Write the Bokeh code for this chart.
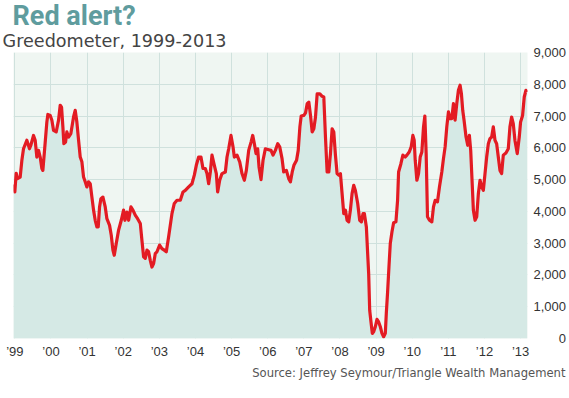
from bokeh.plotting import figure
from bokeh.models import Title, FixedTicker, Range1d
from bokeh.embed import file_html
from bokeh.resources import INLINE

# ---- data (decimal year, Greedometer value) ----
dates_a = [1998.963, 1999.000, 1999.037, 1999.074, 1999.148, 1999.194, 1999.240, 1999.332, 1999.406, 1999.443,
           1999.517, 1999.563, 1999.609, 1999.656, 1999.702, 1999.748, 1999.776, 1999.822, 1999.886, 1999.914,
           1999.979, 2000.025, 2000.071, 2000.145, 2000.210, 2000.256, 2000.293, 2000.330, 2000.357, 2000.404,
           2000.440, 2000.487, 2000.551, 2000.625, 2000.671, 2000.717, 2000.764, 2000.810, 2000.856, 2000.902,
           2000.948, 2000.994, 2001.041, 2001.087, 2001.133, 2001.179, 2001.225, 2001.271, 2001.308, 2001.345,
           2001.382, 2001.438, 2001.502, 2001.548, 2001.622, 2001.669, 2001.715, 2001.752, 2001.807, 2001.872,
           2001.946, 2002.010, 2002.047, 2002.102, 2002.149, 2002.213, 2002.269, 2002.333, 2002.398, 2002.472,
           2002.518, 2002.564, 2002.610, 2002.657, 2002.703, 2002.749, 2002.795, 2002.841, 2002.887, 2002.934,
           2003.007, 2003.072, 2003.137, 2003.192, 2003.257, 2003.349, 2003.414, 2003.488, 2003.580, 2003.654,
           2003.718, 2003.811, 2003.903, 2003.968, 2004.023, 2004.088, 2004.152, 2004.208, 2004.272, 2004.319,
           2004.365, 2004.411, 2004.457, 2004.522, 2004.577, 2004.614, 2004.670, 2004.734, 2004.827, 2004.873,
           2004.919, 2004.983, 2005.039, 2005.076, 2005.150, 2005.224, 2005.288, 2005.353, 2005.408, 2005.473,
           2005.538, 2005.584, 2005.630, 2005.676, 2005.722, 2005.759, 2005.814, 2005.870, 2005.934, 2006.027,
           2006.091, 2006.147, 2006.211, 2006.276, 2006.332, 2006.396, 2006.442, 2006.516, 2006.581, 2006.627]
greed_a = [4850, 4610, 5200, 5030, 5080, 5600, 5970, 6240, 5970, 6080,
           6390, 6240, 5710, 5920, 5710, 5350, 5290, 5920, 6810, 7050,
           7020, 6870, 6550, 6500, 6870, 7340, 7280, 6660, 6130, 6180,
           6500, 6340, 6450, 6970, 7180, 6810, 6240, 5710, 5560, 5080,
           4930, 4770, 4930, 4870, 4450, 4040, 3720, 3510, 3510, 4140,
           4400, 4450, 4140, 3770, 3560, 3250, 2780, 2620, 2990, 3410,
           3720, 4040, 3720, 3980, 3720, 4140, 4040, 3880, 3770, 3620,
           3090, 2570, 2520, 2780, 2730, 2460, 2250, 2360, 2670, 2730,
           2940, 2830, 2780, 2730, 3200, 3930, 4250, 4350, 4350, 4610,
           4660, 4770, 4870, 5140, 5450, 5710, 5710, 5350, 5350, 5190,
           4870, 5240, 5770, 5450, 5190, 4610, 4980, 5190, 5240, 5710,
           5970, 6390, 6030, 5710, 5770, 5560, 5190, 4980, 5290, 5920,
           6180, 6390, 6130, 5820, 5970, 5400, 5000, 5610, 5970, 5940,
           5920, 5770, 5920, 6130, 6030, 5660, 5240, 5290, 5030, 4930]

dates_b = [2006.678, 2006.724, 2006.798, 2006.844, 2006.890, 2006.926, 2007.000, 2007.046, 2007.092, 2007.138,
           2007.184, 2007.230, 2007.276, 2007.322, 2007.368, 2007.442, 2007.506, 2007.552, 2007.598, 2007.644,
           2007.690, 2007.736, 2007.782, 2007.828, 2007.874, 2007.920, 2007.966, 2008.012, 2008.058, 2008.104,
           2008.150, 2008.196, 2008.242, 2008.288, 2008.334, 2008.380, 2008.426, 2008.490, 2008.546, 2008.592,
           2008.638, 2008.674, 2008.730, 2008.766, 2008.794, 2008.822, 2008.858, 2008.895, 2008.932, 2008.978,
           2009.024, 2009.070, 2009.116, 2009.162, 2009.208, 2009.254, 2009.282, 2009.318, 2009.355, 2009.392,
           2009.438, 2009.484, 2009.548, 2009.594, 2009.622, 2009.686, 2009.741, 2009.806, 2009.852, 2009.916,
           2009.971, 2010.017, 2010.054, 2010.082, 2010.128, 2010.174, 2010.220, 2010.266, 2010.312, 2010.349,
           2010.385, 2010.422, 2010.477, 2010.542, 2010.588, 2010.634, 2010.698, 2010.753, 2010.818, 2010.864,
           2010.910, 2010.956, 2011.002, 2011.048, 2011.094, 2011.140, 2011.186, 2011.232, 2011.278, 2011.324,
           2011.361, 2011.397, 2011.434, 2011.489, 2011.535, 2011.581, 2011.618, 2011.655, 2011.692, 2011.738,
           2011.784, 2011.830, 2011.876, 2011.922, 2011.968, 2012.014, 2012.060, 2012.106, 2012.152, 2012.198,
           2012.244, 2012.290, 2012.336, 2012.382, 2012.428, 2012.474, 2012.520, 2012.593, 2012.658, 2012.704,
           2012.750, 2012.796, 2012.842, 2012.906, 2012.962, 2012.998, 2013.054, 2013.100, 2013.146, 2013.182]
greed_b = [5240, 5450, 5610, 5920, 6660, 7000, 7020, 7100, 7390, 7440,
           7020, 6500, 6600, 6970, 7700, 7700, 7620, 7600, 6340, 5240,
           5240, 5820, 6600, 6500, 5770, 5190, 5140, 5190, 4560, 3930,
           4040, 3720, 3670, 4040, 4560, 4820, 4660, 4250, 3720, 3670,
           3930, 3930, 3510, 2670, 2040, 890, 520, 160, 210, 370,
           600, 520, 370, 160, 50, 160, 790, 1470, 2250, 2990,
           3350, 3640, 3670, 4350, 5240, 5500, 5770, 5710, 5770, 5870,
           6030, 6390, 6240, 5610, 4980, 5190, 5710, 5870, 6660, 7000,
           5820, 3830, 3720, 3670, 4140, 4350, 4300, 4770, 5240, 5660,
           6030, 6660, 7130, 6920, 6920, 7390, 6870, 7390, 7810, 7970,
           7700, 7180, 6870, 6340, 6080, 6390, 5920, 4980, 4040, 3720,
           3830, 4560, 4980, 4770, 4660, 5190, 5710, 6130, 6290, 6340,
           6660, 6240, 6130, 5710, 5290, 5190, 5770, 5840, 5970, 6660,
           6970, 6760, 6240, 5820, 6340, 6810, 7020, 7600, 7810, 7750]

year_ticks = list(range(1999, 2014))
year_labels = ["\u201999", "\u201900", "\u201901", "\u201902", "\u201903", "\u201904", "\u201905", "\u201906",
               "\u201907", "\u201908", "\u201909", "\u201910", "\u201911", "\u201912", "\u201913"]
value_ticks = [0, 1000, 2000, 3000, 4000, 5000, 6000, 7000, 8000, 9000]
value_labels = ["\u2007\u2007\u2007\u20080", "1,000", "2,000", "3,000", "4,000", "5,000", "6,000", "7,000", "8,000", "9,000"]

dates = dates_a + dates_b
greed = greed_a + greed_b

p = figure(width=569, height=398, output_backend="svg", toolbar_location=None,
           x_range=Range1d(1998.963, 2013.19), y_range=Range1d(0, 9000),
           y_axis_location="right", min_border_left=13, min_border_right=42,
           min_border_top=52, min_border_bottom=60,
           background_fill_color="#eff6f2", border_fill_color="white")
p.outline_line_color = None

p.title.text = "Red alert?"
p.title.text_font = "Roboto"
p.title.text_font_size = "27px"
p.title.text_font_style = "bold"
p.title.text_color = "#5f9c9e"
p.title.align = "left"
p.title.offset = -1
p.title.standoff = -8

sub = Title(text="Greedometer, 1999-2013", text_font="DejaVu Sans", text_font_size="17.6px",
            text_font_style="normal", text_color="#444444", align="left", offset=-11, standoff=3)
p.add_layout(sub, "above")

src = Title(text="Source: Jeffrey Seymour/Triangle Wealth Management", text_font="DejaVu Sans",
            text_font_size="11.6px", text_font_style="normal", text_color="#555555",
            align="right", offset=-38, standoff=5)
p.add_layout(src, "below")

p.varea(x=dates, y1=0, y2=greed, fill_color="#d5e9e5")
p.line(x=dates, y=greed, line_color="#e31b23", line_width=3.2, line_join="round")

p.xaxis.ticker = FixedTicker(ticks=year_ticks)
p.xaxis.major_label_overrides = dict(zip(year_ticks, year_labels))
p.yaxis.ticker = FixedTicker(ticks=value_ticks)
p.yaxis.major_label_overrides = dict(zip(value_ticks, value_labels))
for ax in (p.xaxis, p.yaxis):
    ax.axis_line_color = None
    ax.major_tick_line_color = None
    ax.minor_tick_line_color = None
    ax.major_tick_out = 0
    ax.major_tick_in = 0
    ax.major_label_text_font = "Liberation Sans"
    ax.major_label_text_font_size = "13px"
    ax.major_label_text_color = "#333333"
p.xaxis.major_label_standoff = 5
p.yaxis.major_label_standoff = 6

p.xgrid.ticker = FixedTicker(ticks=year_ticks)
p.ygrid.ticker = FixedTicker(ticks=value_ticks)
p.grid.grid_line_color = "#cfe1dd"
p.grid.grid_line_width = 1
p.grid.level = "underlay"

open("out.html", "w").write(file_html(p, INLINE))
